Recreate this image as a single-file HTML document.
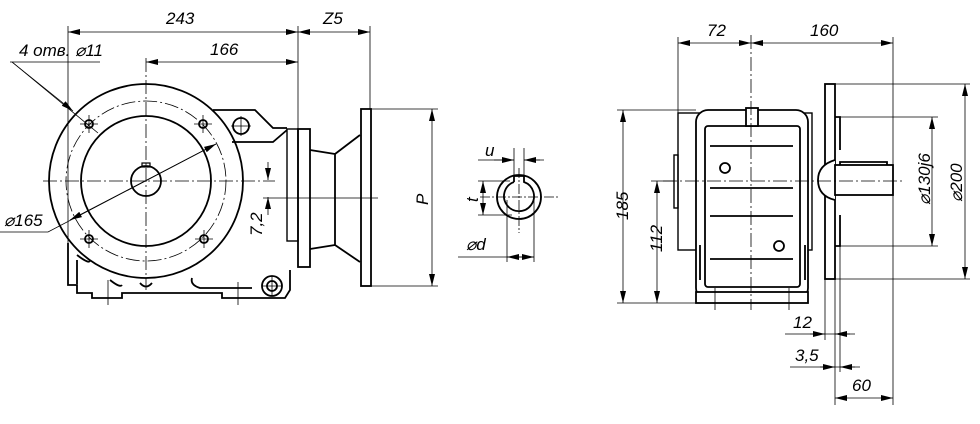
<!DOCTYPE html>
<html><head><meta charset="utf-8"><style>
html,body{margin:0;padding:0;background:#fff}
svg{display:block}
text{font-family:"Liberation Sans",sans-serif;font-style:italic;font-size:17px;fill:#000}
</style></head><body>
<svg width="980" height="424" viewBox="0 0 980 424" xmlns="http://www.w3.org/2000/svg">
<defs>
<marker id="a" viewBox="0 0 12 6" refX="12" refY="3" markerWidth="12" markerHeight="6" orient="auto-start-reverse" markerUnits="userSpaceOnUse"><path d="M0,0L12,3L0,6z" fill="#000"/></marker>
</defs>
<g fill="none" stroke="#000" stroke-width="1.8">
<!-- LEFT VIEW -->
<circle cx="146" cy="181" r="97"/>
<circle cx="146" cy="181" r="65"/>
<circle cx="146" cy="181" r="15"/>
<rect x="142" y="163" width="8" height="4" stroke-width="1.2"/>
<circle cx="89" cy="124" r="4"/><circle cx="203" cy="124" r="4"/>
<circle cx="89" cy="239" r="4"/><circle cx="204" cy="239" r="4"/>
<path d="M213,110 H255 L273,128 H287 M232,142 H273 L287,130"/>
<circle cx="241" cy="126" r="8"/>
<path d="M68,243 V285 H77 V293 H92 V298 H122 V293 H222 V298 H252 V298 H285 L290,290 V270"/>
<path d="M77,260 V284 M77,255 Q90,265 90,260"/>
<path d="M110,280 Q120,288 122,285 M192,278 Q190,285 200,288 H252"/>
<circle cx="272" cy="286" r="10"/><circle cx="272" cy="286" r="5"/>
<path d="M140,283 Q146,290 152,283"/>
<rect x="287" y="129" width="11" height="112" stroke-width="1.4"/>
<rect x="298" y="129" width="12" height="138"/>
<path d="M310,150 L335,154 V245 L310,249 M335,154 L360,135 M335,245 L360,262"/>
<rect x="361" y="109" width="10" height="177"/>
</g>
<g fill="none" stroke="#000" stroke-width="0.8">
<circle cx="146" cy="181" r="80" stroke-dasharray="14,3,2,3"/>
<path d="M43,181 H275 M146,58 V290" stroke-dasharray="14,3,2,3"/>
<path d="M80,124 H98 M89,115 V133 M194,124 H212 M203,115 V133 M80,239 H98 M89,230 V248 M195,239 H213 M204,230 V248 M231,126 H251 M241,116 V136 M262,286 H282 M272,276 V296"/>
<path d="M108,280 V305 M238,282 V305 M263,198 H378"/>
<!-- dims left -->
<path d="M68,26 V250 M298,26 V129 M370,26 V109 M370,109 H438 M370,286 H438"/>
<path d="M68,32 H298" marker-start="url(#a)" marker-end="url(#a)"/>
<path d="M298,32 H370" marker-start="url(#a)" marker-end="url(#a)"/>
<path d="M146,62 H298" marker-start="url(#a)" marker-end="url(#a)"/>
<path d="M432,109 V286" marker-start="url(#a)" marker-end="url(#a)"/>
<path d="M268,162 V180" marker-end="url(#a)"/>
<path d="M268,215 V197" marker-end="url(#a)"/>
<path d="M10,62 H100 M12,62 L98,133" />
<path d="M12,62 L73,111" marker-end="url(#a)"/>
<path d="M0,232 H48 L216,144" />
<path d="M70,220 L216,144" marker-start="url(#a)" marker-end="url(#a)"/>
<!-- KEYWAY -->
<path d="M480,197 H560 M519,168 V233" stroke-dasharray="10,2,2,2"/>
<path d="M514,148 V182 M524,148 V182 M478,160 H514 M540,160 H524"/>
<path d="M494,160 H514" marker-end="url(#a)"/>
<path d="M544,160 H524" marker-end="url(#a)"/>
<path d="M478,181 H510 M478,215 H512"/>
<path d="M483,181 V215" marker-start="url(#a)" marker-end="url(#a)"/>
<path d="M507,200 V262 M534,197 V262 M458,257 H534"/>
<path d="M507,257 H534" marker-start="url(#a)" marker-end="url(#a)"/>
</g>
<g fill="none" stroke="#000" stroke-width="1.8">
<circle cx="519" cy="197" r="22"/>
<path d="M514,182 V176 H524 V182 A15,15 0 1 1 514,182"/>
</g>
<!-- RIGHT VIEW -->
<g fill="none" stroke="#000" stroke-width="1.8">
<rect x="678" y="113" width="134" height="137" stroke-width="1.4"/>
<rect x="674" y="155" width="4" height="53" stroke-width="1.4"/>
<rect x="696" y="110" width="112" height="190" rx="12" fill="#fff"/>
<rect x="705" y="126" width="95" height="161" rx="3"/>
<rect x="696" y="292" width="112" height="11" fill="#fff"/>
<rect x="746" y="108" width="12" height="18" fill="#fff"/>
<path d="M710,146 H793 M710,188 H793 M710,216 H793 M710,259 H793"/>
<circle cx="725" cy="168" r="5"/><circle cx="779" cy="246" r="5"/>
<rect x="825" y="84" width="10" height="195" fill="#fff"/>
<path d="M835,117 H840 V150 M835,246 H840 V215"/>
<path d="M835,160 Q818,165 818,180 Q818,196 835,200" fill="#fff"/>
<rect x="835" y="165" width="58" height="30" fill="#fff"/>
<path d="M840,165 V162 H887 V165"/>
<path d="M700,245 V280 M805,245 V280"/>
</g>
<g fill="none" stroke="#000" stroke-width="0.8">
<path d="M751,35 V310 M663,181 H905" stroke-dasharray="14,3,2,3"/>
<path d="M715,288 V310 M789,288 V310"/>
<path d="M678,37 V113 M893,37 V405 M617,110 H696 M617,303 H696 M651,181 H674"/>
<path d="M678,43 H751" marker-start="url(#a)" marker-end="url(#a)"/>
<path d="M751,43 H893" marker-start="url(#a)" marker-end="url(#a)"/>
<path d="M623,110 V303" marker-start="url(#a)" marker-end="url(#a)"/>
<path d="M657,181 V303" marker-start="url(#a)" marker-end="url(#a)"/>
<path d="M840,117 H938 M840,246 H938 M835,84 H970 M835,279 H970"/>
<path d="M932,117 V246" marker-start="url(#a)" marker-end="url(#a)"/>
<path d="M965,84 V279" marker-start="url(#a)" marker-end="url(#a)"/>
<path d="M825,279 V340 M835,279 V405 M840,246 V372"/>
<path d="M785,334 H855 M790,367 H860"/>
<path d="M810,334 H825" marker-end="url(#a)"/>
<path d="M850,334 H835" marker-end="url(#a)"/>
<path d="M820,367 H835" marker-end="url(#a)"/>
<path d="M855,367 H840" marker-end="url(#a)"/>
<path d="M835,398 H893" marker-start="url(#a)" marker-end="url(#a)"/>
</g>
<g>
<text x="166" y="24">243</text>
<text x="323" y="24">Z5</text>
<text x="210" y="55">166</text>
<text x="19" y="56">4 отв. ⌀11</text>
<text x="4" y="226">⌀165</text>
<text transform="translate(262,236) rotate(-90)">7,2</text>
<text transform="translate(428,205) rotate(-90)">P</text>
<text x="485" y="156">u</text>
<text transform="translate(478,202) rotate(-90)">t</text>
<text x="466" y="250">⌀d</text>
<text x="707" y="36">72</text>
<text x="810" y="36">160</text>
<text transform="translate(628,220) rotate(-90)">185</text>
<text transform="translate(662,252) rotate(-90)">112</text>
<text transform="translate(930,205) rotate(-90)">⌀130j6</text>
<text transform="translate(962,202) rotate(-90)">⌀200</text>
<text x="793" y="328">12</text>
<text x="795" y="361">3,5</text>
<text x="852" y="391">60</text>
</g>
</svg>
</body></html>
